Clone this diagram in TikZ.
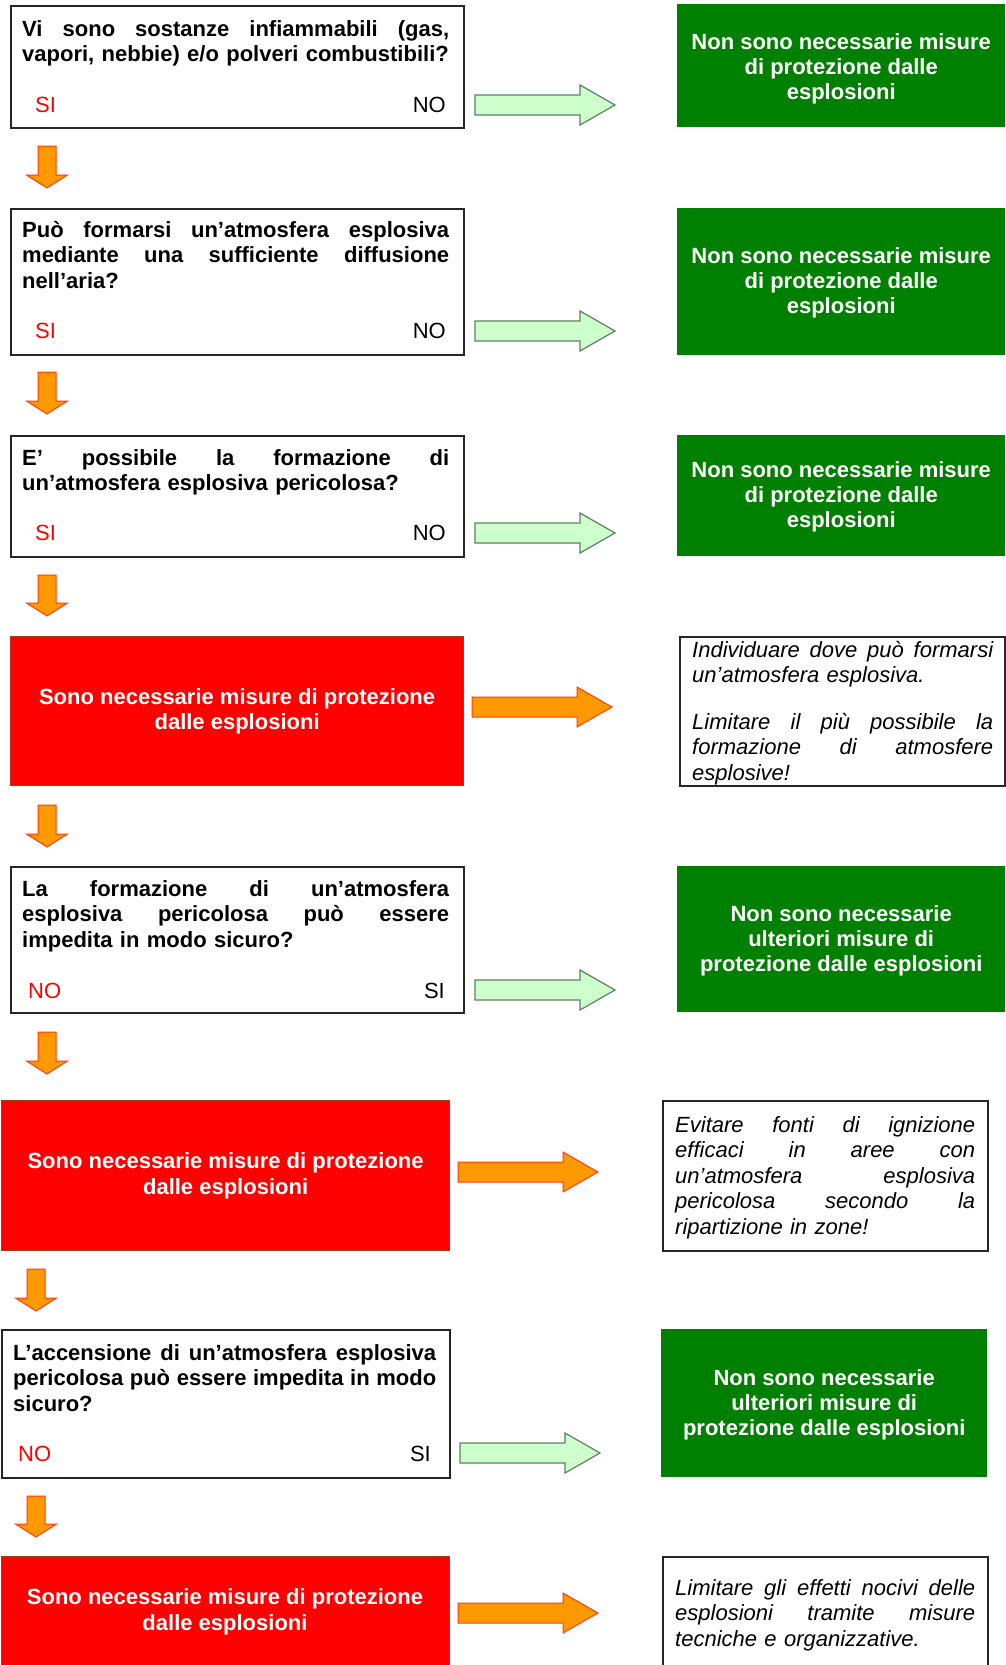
\documentclass[tikz,border=0pt]{standalone}
\usepackage{fontspec}
\setmainfont{Liberation Sans}
\definecolor{boxgreen}{HTML}{008000}
\definecolor{boxred}{HTML}{FF0000}
\definecolor{rededge}{HTML}{A83A10}
\definecolor{arrgreen}{HTML}{CCFFCC}
\definecolor{arrgreenedge}{HTML}{5F805F}
\definecolor{arrorange}{HTML}{FF9900}
\definecolor{arrorangeedge}{HTML}{FF3A10}
\newcommand\jl[1]{\leavevmode\hbox to \hsize{\spaceskip=0pt plus 1fil\xspaceskip=0pt plus 1fil\relax #1}}
\newcommand\fl{\rule{0pt}{18pt}}
\newcommand\myRArrow[4]{% style, left x, center y, (unused)
  \draw[#1] (#2,{#3-10}) -- ({#2+105},{#3-10}) -- ({#2+105},{#3-20}) -- ({#2+140},#3)
    -- ({#2+105},{#3+20}) -- ({#2+105},{#3+10}) -- (#2,{#3+10}) -- cycle;}
\newcommand\myDArrow[3]{% center x, top y, tip y
  \draw[downarr] ({#1-9},#2) -- ({#1+9},#2) -- ({#1+9},{#3-13}) -- ({#1+20.5},{#3-13})
    -- (#1,#3) -- ({#1-20.5},{#3-13}) -- ({#1-9},{#3-13}) -- cycle;}
\tikzset{
  qbox/.style={draw=black!85, line width=1.5pt, fill=white, inner sep=0pt, anchor=north west},
  gbox/.style={fill=boxgreen, draw=none, inner sep=0pt, anchor=north west},
  rbox/.style={fill=boxred, draw=rededge, line width=1.2pt, inner sep=0pt, anchor=north west},
  ibox/.style={draw=black!85, line width=1.5pt, fill=white, inner sep=0pt, anchor=north west},
  qtext/.style={anchor=north west, inner sep=0pt, align=left, text width=#1,
    font=\fontsize{22}{25.5}\selectfont\bfseries},
  itext/.style={anchor=north west, inner sep=0pt, align=left, text width=#1,
    font=\fontsize{22}{25.5}\selectfont\itshape},
  gtext/.style={inner sep=0pt, align=center, text=white,
    font=\fontsize{22}{25}\selectfont\bfseries},
  rtext/.style={inner sep=0pt, align=center, text=white,
    font=\fontsize{22}{25.5}\selectfont\bfseries},
  lblred/.style={inner sep=0pt, text=red, font=\fontsize{22}{25.5}\selectfont},
  lblblk/.style={inner sep=0pt, text=black, font=\fontsize{22}{25.5}\selectfont},
  greenarr/.style={fill=arrgreen, draw=arrgreenedge, line width=1.2pt, line join=miter},
  orangearr/.style={fill=arrorange, draw=arrorangeedge, line width=1pt, line join=miter},
  downarr/.style={fill=arrorange, draw=arrorangeedge, line width=1pt, line join=miter}
}
\begin{document}
\begin{tikzpicture}[x=1pt,y=-1pt]
\useasboundingbox (0,0) rectangle (1005,1665);
\fill[white] (0,0) rectangle (1005,1665);

% ---------- Row 1 ----------
\node[qbox, minimum width=453pt, minimum height=122pt] (q1) at (10,5) {};
\node[qtext=427pt] (q1t) at (22,18) {\fl\jl{Vi sono sostanze infiammabili (gas,}\\vapori, nebbie) e/o polveri combustibili?};
\node[lblred, anchor=base west] (q1l) at (35,112) {SI};
\node[lblblk, anchor=base east] (q1r) at (446,112) {NO};
\node[gbox, minimum width=328pt, minimum height=123pt] (g1) at (677,4) {};
\node[gtext] (g1t) at ([yshift=-3pt]g1.center) {Non sono necessarie misure\\di protezione dalle\\esplosioni};
\myRArrow{greenarr}{475}{105}{}
\myDArrow{47}{146}{188}

% ---------- Row 2 ----------
\node[qbox, minimum width=453pt, minimum height=146pt] (q2) at (10,208) {};
\node[qtext=427pt] (q2t) at (22,219) {\fl\jl{Può formarsi un’atmosfera esplosiva}\\\jl{mediante una sufficiente diffusione}\\nell’aria?};
\node[lblred, anchor=base west] (q2l) at (35,338) {SI};
\node[lblblk, anchor=base east] (q2r) at (446,338) {NO};
\node[gbox, minimum width=328pt, minimum height=147pt] (g2) at (677,208) {};
\node[gtext] (g2t) at ([yshift=-1pt]g2.center) {Non sono necessarie misure\\di protezione dalle\\esplosioni};
\myRArrow{greenarr}{475}{331}{}
\myDArrow{47}{372}{414}

% ---------- Row 3 ----------
\node[qbox, minimum width=453pt, minimum height=121pt] (q3) at (10,435) {};
\node[qtext=427pt] (q3t) at (22,447) {\fl\jl{E’ possibile la formazione di}\\un’atmosfera esplosiva pericolosa?};
\node[lblred, anchor=base west] (q3l) at (35,540) {SI};
\node[lblblk, anchor=base east] (q3r) at (446,540) {NO};
\node[gbox, minimum width=328pt, minimum height=121pt] (g3) at (677,435) {};
\node[gtext] (g3t) at ([yshift=-1pt]g3.center) {Non sono necessarie misure\\di protezione dalle\\esplosioni};
\myRArrow{greenarr}{475}{533}{}
\myDArrow{47}{575}{616}

% ---------- Row 4 ----------
\node[rbox, minimum width=453pt, minimum height=149pt] (r1) at (10,636) {};
\node[rtext] (r1t) at (r1.center) {Sono necessarie misure di protezione\\dalle esplosioni};
\node[ibox, minimum width=325pt, minimum height=149pt] (i1) at (679,636) {};
\node[itext=301pt] (i1t) at (692,639) {\fl\jl{Individuare dove può formarsi}\\un’atmosfera esplosiva.\\[21pt]\jl{Limitare il più possibile la}\\\jl{formazione di atmosfere}\\esplosive!};
\myRArrow{orangearr}{472}{707}{}
\myDArrow{47}{805}{847}

% ---------- Row 5 ----------
\node[qbox, minimum width=453pt, minimum height=146pt] (q5) at (10,866) {};
\node[qtext=427pt] (q5t) at (22,878) {\fl\jl{La formazione di un’atmosfera}\\\jl{esplosiva pericolosa può essere}\\impedita in modo sicuro?};
\node[lblred, anchor=base west] (q5l) at (28,998) {NO};
\node[lblblk, anchor=base east] (q5r) at (445,998) {SI};
\node[gbox, minimum width=328pt, minimum height=146pt] (g5) at (677,866) {};
\node[gtext] (g5t) at ([yshift=-2pt]g5.center) {Non sono necessarie\\ulteriori misure di\\protezione dalle esplosioni};
\myRArrow{greenarr}{475}{990}{}
\myDArrow{47}{1032}{1074}

% ---------- Row 6 ----------
\node[rbox, minimum width=448pt, minimum height=150pt] (r2) at (1,1100) {};
\node[rtext] (r2t) at (r2.center) {Sono necessarie misure di protezione\\dalle esplosioni};
\node[ibox, minimum width=325pt, minimum height=150pt] (i2) at (662,1100) {};
\node[itext=300pt] (i2t) at (675,1114) {\fl\jl{Evitare fonti di ignizione}\\\jl{efficaci in aree con}\\\jl{un’atmosfera esplosiva}\\\jl{pericolosa secondo la}\\ripartizione in zone!};
\myRArrow{orangearr}{458}{1172}{}
\myDArrow{36}{1269}{1311}

% ---------- Row 7 ----------
\node[qbox, minimum width=448pt, minimum height=148pt] (q7) at (1,1329) {};
\node[qtext=423pt] (q7t) at (13,1342) {\fl\jl{L’accensione di un’atmosfera esplosiva}\\\jl{pericolosa può essere impedita in modo}\\sicuro?};
\node[lblred, anchor=base west] (q7l) at (18,1461) {NO};
\node[lblblk, anchor=base east] (q7r) at (431,1461) {SI};
\node[gbox, minimum width=326pt, minimum height=148pt] (g7) at (661,1329) {};
\node[gtext] (g7t) at ([yshift=-2pt]g7.center) {Non sono necessarie\\ulteriori misure di\\protezione dalle esplosioni};
\myRArrow{greenarr}{460}{1453}{}
\myDArrow{36}{1496}{1537}

% ---------- Row 8 ----------
\node[rbox, minimum width=448pt, minimum height=114pt] (r3) at (1,1556) {};
\node[rtext] (r3t) at (225,1612) {Sono necessarie misure di protezione\\dalle esplosioni};
\node[ibox, minimum width=325pt, minimum height=120pt] (i3) at (662,1556) {};
\node[itext=300pt] (i3t) at (675,1577) {\fl\jl{Limitare gli effetti nocivi delle}\\\jl{esplosioni tramite misure}\\tecniche e organizzative.};
\myRArrow{orangearr}{458}{1613}{}
\end{tikzpicture}
\end{document}
